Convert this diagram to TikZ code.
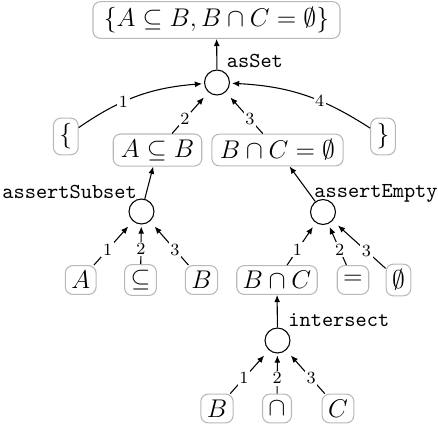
\documentclass[tikz,border=0pt]{standalone}
\usetikzlibrary{arrows.meta}
\begin{document}
\begin{tikzpicture}[x=0.46875pt,y=-0.46875pt,
  term/.style={draw=black!28,rounded corners=3.5pt,line width=0.5pt,inner xsep=2.8pt,inner ysep=2.6pt,minimum height=13.5pt,font=\large},
  op/.style={draw,circle,line width=0.5pt,minimum size=11.7pt,inner sep=0pt},
  optarget/.style={rectangle,minimum size=13.6pt,inner sep=0pt},
  fname/.style={anchor=base west,inner sep=0pt,font=\ttfamily},
  arr/.style={-{Latex[length=3.4pt,width=2.8pt]},line width=0.5pt},
  lab/.style={font=\footnotesize,fill=white,inner sep=0.8pt,pos=0.4}]
\useasboundingbox (0,0) rectangle (438,424);
% top tier
\node[term,minimum width=115.8pt,minimum height=16.4pt] (top) at (216.5,20) {$\{A\subseteq B, B\cap C=\emptyset\}$};
\node[op] (c0) at (217,82.5) {};
\node[optarget] (t0) at (c0) {};
\node[fname] (l0) at (226.5,67) {asSet};
\node[term] (lb) at (65.8,136.5) {$\{$};
\node[term,minimum width=41.5pt] (s1) at (157.5,150) {$A\subseteq B$};
\node[term,minimum width=61.5pt] (s2) at (277.5,150) {$B\cap C=\emptyset$};
\node[term] (rb) at (383,136.5) {$\}$};
% second tier
\node[op] (c1) at (141.5,211.5) {};
\node[optarget] (t1) at (c1) {};
\node[fname] (l1) at (2,198) {assertSubset};
\node[op] (c2) at (323,212) {};
\node[optarget] (t2) at (c2) {};
\node[fname] (l2) at (314,197) {assertEmpty};
\node[term] (a) at (80.7,280) {$A$};
\node[term] (sub) at (140.5,280) {$\subseteq$};
\node[term] (b1) at (201.5,280) {$B$};
\node[term] (bc) at (277,280) {$B\cap C$};
\node[term] (eq) at (353,280) {$=$};
\node[term] (em) at (398.5,280) {$\emptyset$};
% third tier
\node[op] (c3) at (277.5,340.5) {};
\node[optarget] (t3) at (c3) {};
\node[fname] (l3) at (288,326) {intersect};
\node[term] (b2) at (217,408.5) {$B$};
\node[term] (cap) at (277,408.5) {$\cap$};
\node[term] (cc) at (338,408.5) {$C$};
% connectors
\draw[arr] (c0) -- (top);
\draw[arr] (lb) to[bend left=15] node[lab,pos=0.38] {1} (t0);
\draw[arr] (s1) -- node[lab] {2} (t0);
\draw[arr] (s2) -- node[lab] {3} (t0);
\draw[arr] (rb) to[bend right=15] node[lab,pos=0.38] {4} (t0);
\draw[arr] (c1) -- (s1);
\draw[arr] (c2) -- (s2);
\draw[arr] (a) -- node[lab] {1} (t1);
\draw[arr] (sub) -- node[lab] {2} (t1);
\draw[arr] (b1) -- node[lab] {3} (t1);
\draw[arr] (bc) -- node[lab] {1} (t2);
\draw[arr] (eq) -- node[lab] {2} (t2);
\draw[arr] (em) -- node[lab] {3} (t2);
\draw[arr] (c3) -- (bc);
\draw[arr] (b2) -- node[lab] {1} (t3);
\draw[arr] (cap) -- node[lab] {2} (t3);
\draw[arr] (cc) -- node[lab] {3} (t3);
\end{tikzpicture}
\end{document}
